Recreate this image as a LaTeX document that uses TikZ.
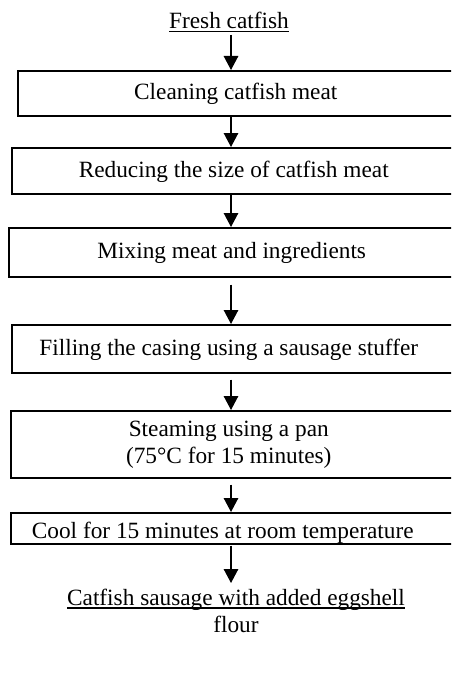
\documentclass[tikz,border=0pt]{standalone}
\usepackage{fontspec}
\setmainfont{Liberation Serif}
\usetikzlibrary{arrows.meta,calc}
\newcommand\myuline[1]{\setbox0=\hbox{#1}\rlap{\rule[-3.2pt]{\wd0}{1.2pt}}\box0}
\begin{document}
\begin{tikzpicture}[x=1pt,y=-1pt,
  every node/.style={font=\fontsize{23.3pt}{27.5pt}\selectfont, inner sep=0pt},
  stepbox/.style={draw, line width=1.5pt, anchor=north west},
  oneline/.style={text height=17.5pt, text depth=4.7pt},
  arr/.style={line width=1.4pt, -{Triangle[length=14pt,width=14.5pt]}}]
\useasboundingbox (0,0) rectangle (451,677);
\clip (0,0) rectangle (451,677);
\coordinate (ax) at (231,0);
% start and end texts
\node[anchor=base] (fresh) at (229,29) {\myuline{Fresh catfish}};
% process boxes
\node[stepbox, oneline, minimum width=443pt, minimum height=45pt] (b1) at (17,70) {Cleaning catfish meat\hspace*{7pt}};
\node[stepbox, oneline, minimum width=449pt, minimum height=46pt] (b2) at (11,147) {Reducing the size of catfish meat\hspace*{5pt}};
\node[stepbox, oneline, minimum width=452pt, minimum height=49pt] (b3) at (8,227) {Mixing meat and ingredients\hspace*{6pt}};
\node[stepbox, oneline, minimum width=449pt, minimum height=48pt] (b4) at (11,324) {Filling the casing using a sausage stuffer\hspace*{15pt}};
\node[stepbox, minimum width=450pt, minimum height=67pt] (b5) at (10,410) {\begin{tabular}{@{}c@{}}Steaming using a pan\\(75°C for 15 minutes)\end{tabular}\hspace*{14pt}};
\node[stepbox, text height=20pt, text depth=0pt, minimum width=450pt, minimum height=31pt] (b6) at (10,512) {Cool for 15 minutes at room temperature\hspace*{26pt}};
\node[anchor=north] (out) at (236,586) {\begin{tabular}{@{}c@{}}\myuline{Catfish sausage with added eggshell}\\flour\end{tabular}};
% connectors
\draw[arr] ($(fresh.base -| ax)+(0,6)$) -- (b1.north -| ax);
\draw[arr] (b1.south -| ax) -- (b2.north -| ax);
\draw[arr] (b2.south -| ax) -- (b3.north -| ax);
\draw[arr] ($(b3.south -| ax)+(0,7)$) -- (b4.north -| ax);
\draw[arr] ($(b4.south -| ax)+(0,6)$) -- (b5.north -| ax);
\draw[arr] ($(b5.south -| ax)+(0,6)$) -- (b6.north -| ax);
\draw[arr] ($(b6.south -| ax)+(0,1)$) -- ($(out.north -| ax)+(0,-3)$);
\end{tikzpicture}
\end{document}
